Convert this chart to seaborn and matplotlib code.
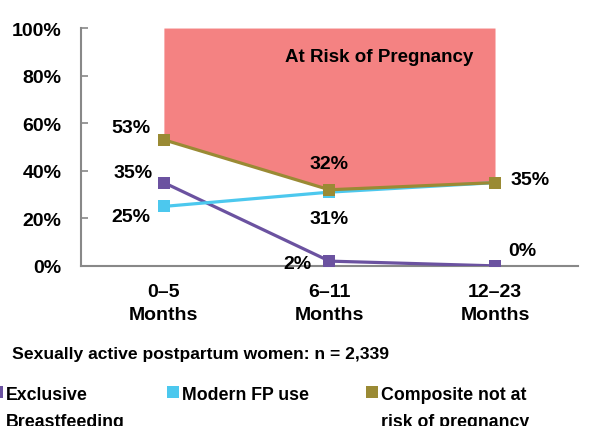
import matplotlib
matplotlib.use("Agg")
import matplotlib.pyplot as plt
import seaborn as sns
import pandas as pd
import numpy as np
from matplotlib.patches import Rectangle

categories = ["0–5\nMonths", "6–11\nMonths", "12–23\nMonths"]
exclusive_bf = [35, 2, 0]
modern_fp = [25, 31, 35]
composite = [53, 32, 35]
series_names = ["Exclusive\nBreastfeeding", "Modern FP use", "Composite not at\nrisk of pregnancy"]
colors = ["#6B52A0", "#4CC8EE", "#9A8A34"]
y_ticks = [0, 20, 40, 60, 80, 100]

sns.set_theme(style="white")
plt.rcParams['font.family'] = ['Liberation Sans', 'DejaVu Sans']
plt.rcParams['font.weight'] = 'bold'
plt.rcParams['text.color'] = 'black'
plt.rcParams['xtick.color'] = 'black'
plt.rcParams['ytick.color'] = 'black'

fig = plt.figure(figsize=(5.92, 4.27), dpi=100)
ax = fig.add_axes([0.137, 0.375, 0.839, 0.557])

x = np.arange(len(categories))
ax.fill_between(x, composite, 100, color="#F48282", linewidth=0, zorder=1)

df = pd.DataFrame({
    "pos": np.tile(x, 3),
    "val": exclusive_bf + modern_fp + composite,
    "series": np.repeat(series_names, 3),
})
order = [1, 0, 2]
for i in order:
    sub = df[df.series == series_names[i]]
    sns.lineplot(data=sub, x="pos", y="val", color=colors[i], marker="s",
                 markersize=8.5, markeredgewidth=0, linewidth=2.3, ax=ax,
                 zorder=3 + i, legend=False)

FS = 14
ax.set_xlim(-0.5, 2.5)
ax.set_ylim(0, 100)
ax.set_yticks(y_ticks)
ax.set_yticklabels([f"{v}%" for v in y_ticks], fontsize=FS, fontweight="bold")
ax.set_xticks(x)
ax.set_xticklabels(categories, fontsize=FS, fontweight="bold", linespacing=1.5)
ax.set_xlabel("")
ax.set_ylabel("")
for s in ["top", "right"]:
    ax.spines[s].set_visible(False)
for s in ["left", "bottom"]:
    ax.spines[s].set_color("#888888")
    ax.spines[s].set_linewidth(1.5)
    ax.spines[s].set_zorder(2)
ax.tick_params(axis="y", left=True, direction="in", length=5, width=1.2,
               color="#888888", labelcolor="black", pad=14)
ax.tick_params(axis="x", bottom=False, pad=6, labelcolor="black")

lab = dict(fontsize=FS, fontweight="bold", color="black")
def put(v, xi, dx, dy):
    ax.annotate(f"{v}%", (xi, v), xytext=(dx, dy), textcoords="offset points",
                ha="center", va="center", zorder=10, **lab)

put(composite[0], 0, -24, 9)
put(exclusive_bf[0], 0, -22, 7)
put(modern_fp[0], 0, -24, -7)
put(composite[1], 1, 0, 19)
put(modern_fp[1], 1, 0, -19)
put(exclusive_bf[1], 1, -23, -2)
put(exclusive_bf[2], 2, 20, 11)
put(composite[2], 2, 25, 2)

ax.text(1.3, 88, "At Risk of Pregnancy", fontsize=13.5, fontweight="bold",
        ha="center", va="center", zorder=10)

fig.text(12 / 592, 1 - 355 / 427, "Sexually active postpartum women: n = 2,339",
         fontsize=12.6, fontweight="bold", ha="left", va="center")

# legend
leg_y = 1 - 393 / 427
sq = 12 / 592
sqh = 12 / 427
leg_x = [-9 / 592, 167 / 592, 366 / 592]
for i, name in enumerate(series_names):
    fig.patches.append(Rectangle((leg_x[i], leg_y - sqh / 2), sq, sqh, transform=fig.transFigure,
                                 facecolor=colors[i], edgecolor="none"))
    fig.text(leg_x[i] + sq + 3 / 592, 1 - 387 / 427, name, fontsize=12.8, fontweight="bold",
             ha="left", va="top", linespacing=1.75,
             transform=fig.transFigure)

fig.savefig("out.png", dpi=100)
